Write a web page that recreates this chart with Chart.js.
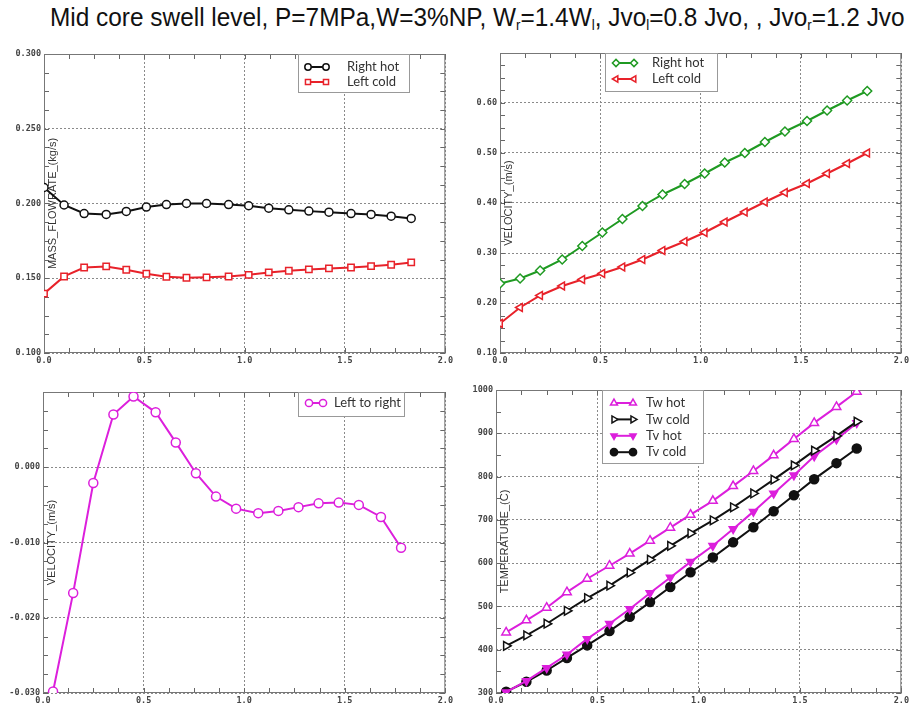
<!DOCTYPE html>
<html>
<head>
<meta charset="utf-8">
<script src="https://cdn.jsdelivr.net/npm/chart.js@4.4.1/dist/chart.umd.min.js"></script>
<style>
  body { margin: 0; background: #fff; width: 912px; height: 709px; overflow: hidden; position: relative; }
  #title {
    position: absolute; left: 50px; top: 2px; white-space: nowrap;
    font-family: "Liberation Sans", Arial, sans-serif;
    font-size: 25px; color: #111; line-height: 30px;
    transform-origin: 0 0;
  }
  #title sub { font-size: 0.55em; vertical-align: -0.3em; line-height: 0; }
  .panel { position: absolute; }
</style>
</head>
<body>
<div id="title">Mid core swell level, P=7MPa,W=3%NP, W<sub>r</sub>=1.4W<sub>l</sub>, Jvo<sub>l</sub>=0.8 Jvo, , Jvo<sub>r</sub>=1.2 Jvo</div>
<div class="panel" style="left:0;top:42px"><canvas id="c1" width="456" height="330"></canvas></div>
<div class="panel" style="left:456px;top:42px"><canvas id="c2" width="456" height="330"></canvas></div>
<div class="panel" style="left:0;top:378px"><canvas id="c3" width="456" height="331"></canvas></div>
<div class="panel" style="left:456px;top:378px"><canvas id="c4" width="456" height="331"></canvas></div>
<script>
// --- data ---
// top row: axial position (m)
const xTop = [0.00, 0.10, 0.20, 0.31, 0.41, 0.51, 0.61, 0.71, 0.81, 0.92, 1.02, 1.12, 1.22, 1.32, 1.42, 1.53, 1.63, 1.73, 1.83];
const massRightHot = [0.2107, 0.1990, 0.1933, 0.1927, 0.1947, 0.1976, 0.1993, 0.2000, 0.2000, 0.1993, 0.1985, 0.1969, 0.1958, 0.1949, 0.1942, 0.1933, 0.1927, 0.1915, 0.1900];
const massLeftCold = [0.1397, 0.1512, 0.1572, 0.1579, 0.1557, 0.1530, 0.1510, 0.1503, 0.1506, 0.1512, 0.1523, 0.1539, 0.1550, 0.1559, 0.1566, 0.1572, 0.1581, 0.1590, 0.1606];
const velRightHot = [0.239, 0.249, 0.265, 0.287, 0.314, 0.341, 0.368, 0.394, 0.417, 0.438, 0.459, 0.481, 0.500, 0.522, 0.543, 0.564, 0.585, 0.605, 0.624];
const velLeftCold = [0.159, 0.191, 0.215, 0.234, 0.247, 0.259, 0.272, 0.287, 0.305, 0.323, 0.341, 0.362, 0.382, 0.402, 0.421, 0.439, 0.459, 0.479, 0.500];

// bottom row: cell centres
const xBottom = [0.05, 0.15, 0.25, 0.35, 0.45, 0.56, 0.66, 0.76, 0.86, 0.96, 1.07, 1.17, 1.27, 1.37, 1.47, 1.57, 1.68, 1.78];
const velLeftToRight = [-0.0298, -0.0167, -0.0021, 0.0070, 0.0094, 0.0073, 0.0033, -0.0008, -0.0039, -0.0055, -0.0061, -0.0058, -0.0053, -0.0048, -0.0047, -0.0050, -0.0066, -0.0107];
const twHot = [440, 468, 497, 533, 564, 594, 622, 652, 682, 712, 744, 778, 813, 849, 887, 924, 961, 996];
const twCold = [409, 433, 460, 490, 519, 548, 578, 608, 640, 669, 699, 729, 761, 793, 826, 860, 894, 927];
const tvHot = [302, 328, 358, 389, 425, 460, 494, 531, 567, 603, 640, 679, 719, 761, 803, 847, 886, 924];
const tvCold = [303, 326, 352, 381, 410, 443, 476, 510, 545, 579, 613, 648, 683, 720, 757, 794, 831, 865];

const xTicks = ['0.0', '0.5', '1.0', '1.5', '2.0'];

// --- look ---
const BLACK = '#111111';
const RED = '#e8222a';
const GREEN = '#1f9a22';
const MAGENTA = '#dc1fdc';
const tickFont = { family: '"DejaVu Sans Mono", monospace', size: 8.5, weight: 'bold' };

function pairs(xs, ys) {
    return ys.map((y, i) => ({ x: xs[i], y: y }));
}

// titre de l'axe, cadre, petites graduations et legende dessines dans la zone du graphe
const decorPlugin = {
    id: 'decor',
    beforeDatasetsDraw(chart, args, opts) {
        const { ctx, chartArea: a, scales: { x, y } } = chart;
        ctx.save();
        ctx.strokeStyle = '#666';
        ctx.lineWidth = 1;
        ctx.beginPath();
        for (let i = 0; ; i++) {
            const v = x.min + i * opts.xMinor;
            if (v > x.max + 1e-9) break;
            const px = Math.round(x.getPixelForValue(v)) + 0.5;
            ctx.moveTo(px, a.top); ctx.lineTo(px, a.top + 5);
            ctx.moveTo(px, a.bottom); ctx.lineTo(px, a.bottom - 5);
        }
        for (let i = 0; ; i++) {
            const v = y.min + i * opts.yMinor;
            if (v > y.max + 1e-9) break;
            const py = Math.round(y.getPixelForValue(v)) + 0.5;
            ctx.moveTo(a.left, py); ctx.lineTo(a.left + 5, py);
            ctx.moveTo(a.right, py); ctx.lineTo(a.right - 5, py);
        }
        ctx.stroke();

        ctx.strokeStyle = '#777';
        ctx.strokeRect(a.left + 0.5, a.top + 0.5, a.width - 1, a.height - 1);

        ctx.translate(a.left + opts.titleDx, (a.top + a.bottom) / 2);
        ctx.rotate(-Math.PI / 2);
        ctx.font = '11px "Liberation Sans", Arial, sans-serif';
        ctx.fillStyle = '#333';
        ctx.textAlign = 'center';
        ctx.textBaseline = 'middle';
        ctx.fillText(opts.yTitle, 0, 0);
        ctx.restore();
    },
    afterDatasetsDraw(chart, args, opts) {
        const { ctx, chartArea: a } = chart;
        const L = opts.legend;
        const bx = a.left + L.x, by = a.top + L.y;
        ctx.save();
        ctx.fillStyle = '#fff';
        ctx.fillRect(bx, by, L.w, L.h);
        ctx.strokeStyle = '#999';
        ctx.lineWidth = 1;
        ctx.strokeRect(bx + 0.5, by + 0.5, L.w, L.h);
        chart.data.datasets.forEach((ds, i) => {
            const cy = by + L.row0 + i * L.rowH;
            ctx.strokeStyle = ds.borderColor;
            ctx.lineWidth = 2;
            ctx.beginPath();
            ctx.moveTo(bx + L.m0, cy);
            ctx.lineTo(bx + L.m1, cy);
            ctx.stroke();
            [bx + L.m0, bx + L.m1].forEach(mx => {
                ctx.fillStyle = ds.pointBackgroundColor;
                ctx.strokeStyle = ds.borderColor;
                ctx.lineWidth = 1.5;
                if (Chart.helpers && Chart.helpers.drawPoint) {
                    Chart.helpers.drawPoint(ctx, {
                        pointStyle: ds.pointStyle, rotation: ds.pointRotation || 0,
                        radius: ds.pointRadius * 0.8, borderWidth: 1.5
                    }, mx, cy);
                } else {
                    ctx.beginPath();
                    ctx.arc(mx, cy, 3.5, 0, Math.PI * 2);
                    ctx.fill();
                    ctx.stroke();
                }
            });
            ctx.fillStyle = '#333';
            ctx.font = '13px Lato, "Open Sans", sans-serif';
            ctx.textAlign = 'left';
            ctx.textBaseline = 'middle';
            ctx.fillText(ds.label, bx + L.tx, cy);
        });
        ctx.restore();
    }
};

function buildPanel(id, cfg) {
    const datasets = cfg.series.map(s => ({
        label: s.label,
        data: pairs(s.xs, s.ys),
        borderColor: s.color,
        backgroundColor: s.fill,
        borderWidth: 2,
        pointStyle: s.marker,
        pointRotation: s.rotation || 0,
        pointRadius: s.radius,
        pointBorderWidth: 1.5,
        pointBackgroundColor: s.fill,
        tension: 0
    }));

    const yMax = cfg.yMax, yMin = cfg.yMin;
    const gridColor = '#8a8a8a';

    return new Chart(document.getElementById(id), {
        type: 'line',
        data: { datasets: datasets },
        options: {
            responsive: false,
            animation: false,
            layout: { padding: { top: cfg.padTop, right: cfg.padRight, left: 0, bottom: 0 } },
            plugins: {
                legend: { display: false },
                tooltip: { enabled: false },
                decor: { xMinor: 0.125, yMinor: cfg.yMinor, yTitle: cfg.yTitle, titleDx: 9, legend: cfg.legend }
            },
            scales: {
                x: {
                    type: 'linear', min: 0, max: 2,
                    afterFit: s => { s.height = cfg.xAxisH; },
                    ticks: {
                        stepSize: 0.5, autoSkip: false, maxRotation: 0, padding: 3,
                        color: '#444', font: tickFont,
                        callback: (v, i) => xTicks[i]
                    },
                    grid: { color: gridColor, drawTicks: false },
                    border: { display: false, dash: [2, 2] }
                },
                y: {
                    type: 'linear', min: yMin, max: yMax,
                    afterFit: s => { s.width = cfg.yAxisW; },
                    ticks: {
                        stepSize: cfg.yStep, autoSkip: false, padding: 3,
                        color: '#444', font: tickFont,
                        callback: cfg.yLabel
                    },
                    grid: { color: gridColor, drawTicks: false },
                    border: { display: false, dash: [2, 2] }
                }
            }
        },
        plugins: [decorPlugin]
    });
}

// 1. debit massique
buildPanel('c1', {
    yMin: 0.1, yMax: 0.3, yStep: 0.05, yMinor: 0.0125,
    yLabel: v => v.toFixed(3),
    yTitle: 'MASS_FLOWRATE_(kg/s)',
    yAxisW: 44, xAxisH: 19, padTop: 12, padRight: 9,
    legend: { x: 254, y: 0, w: 111, h: 38, row0: 13, rowH: 15, m0: 10, m1: 28, tx: 49 },
    series: [
        { label: 'Right hot', xs: xTop, ys: massRightHot, color: BLACK, fill: '#fff', marker: 'circle', radius: 4 },
        { label: 'Left cold', xs: xTop, ys: massLeftCold, color: RED, fill: '#fff', marker: 'rect', radius: 4.5 }
    ]
});

// 2. vitesse par cote
buildPanel('c2', {
    yMin: 0.1, yMax: 0.7, yStep: 0.1, yMinor: 0.025,
    yLabel: v => (v > 0.65 ? '' : v.toFixed(2)),
    yTitle: 'VELOCITY_(m/s)',
    yAxisW: 44, xAxisH: 19, padTop: 11, padRight: 8,
    legend: { x: 105, y: 0, w: 112, h: 38, row0: 10, rowH: 16, m0: 11, m1: 29, tx: 47 },
    series: [
        { label: 'Right hot', xs: xTop, ys: velRightHot, color: GREEN, fill: '#fff', marker: 'rectRot', radius: 4.5 },
        { label: 'Left cold', xs: xTop, ys: velLeftCold, color: RED, fill: '#fff', marker: 'triangle', rotation: -90, radius: 4.5 }
    ]
});

// 3. vitesse transversale
buildPanel('c3', {
    yMin: -0.03, yMax: 0.01, yStep: 0.01, yMinor: 0.0025,
    yLabel: v => (v > 0.005 ? '' : (Math.abs(v) < 1e-9 ? '0.000' : v.toFixed(3))),
    yTitle: 'VELOCITY_(m/s)',
    yAxisW: 43, xAxisH: 16, padTop: 14, padRight: 8,
    legend: { x: 255, y: 0, w: 106, h: 24, row0: 11, rowH: 15, m0: 11, m1: 25, tx: 36 },
    series: [
        { label: 'Left to right', xs: xBottom, ys: velLeftToRight, color: MAGENTA, fill: '#fff', marker: 'circle', radius: 4.5 }
    ]
});

// 4. temperatures paroi / vapeur
buildPanel('c4', {
    yMin: 300, yMax: 1000, yStep: 100, yMinor: 50,
    yLabel: v => String(Math.round(v)),
    yTitle: 'TEMPERATURE_(C)',
    yAxisW: 40, xAxisH: 16, padTop: 12, padRight: 9,
    legend: { x: 106, y: 0, w: 101, h: 73, row0: 13, rowH: 16.4, m0: 12, m1: 31, tx: 44 },
    series: [
        { label: 'Tw hot', xs: xBottom, ys: twHot, color: MAGENTA, fill: '#fff', marker: 'triangle', radius: 5 },
        { label: 'Tw cold', xs: xBottom, ys: twCold, color: BLACK, fill: '#fff', marker: 'triangle', rotation: 90, radius: 5 },
        { label: 'Tv hot', xs: xBottom, ys: tvHot, color: MAGENTA, fill: MAGENTA, marker: 'triangle', rotation: 180, radius: 4.5 },
        { label: 'Tv cold', xs: xBottom, ys: tvCold, color: BLACK, fill: BLACK, marker: 'circle', radius: 4.5 }
    ]
});

// titre : hauteur de la police gardee, largeur ramenee a celle de la reference
const titleEl = document.getElementById('title');
titleEl.style.transform = 'scaleX(' + (855 / titleEl.offsetWidth).toFixed(3) + ')';
</script>
</body>
</html>
